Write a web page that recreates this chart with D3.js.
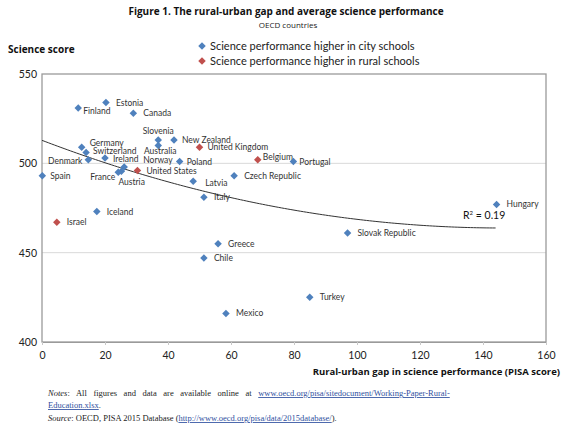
<!DOCTYPE html>
<html>
<head>
<meta charset="utf-8">
<script src="https://cdn.jsdelivr.net/npm/d3@7"></script>
<style>
  body { margin: 0; background: #fff; }
  svg { display: block; }
</style>
</head>
<body>
<div id="chart"></div>
<script>
// Data
const countries = ["Spain", "Israel", "Finland", "Germany", "Switzerland", "Denmark", "Iceland", "Ireland",
  "Estonia", "France", "Austria", "Norway", "Canada", "United States", "Slovenia", "Australia",
  "New Zealand", "Poland", "Latvia", "United Kingdom", "Italy", "Chile", "Greece", "Mexico",
  "Czech Republic", "Belgium", "Portugal", "Turkey", "Slovak Republic", "Hungary"];
const gap = [0.1, 4.7, 11.5, 12.6, 14, 14.7, 17.4, 20, 20.3, 24.2, 25.2, 26.1, 29, 30.3, 36.9, 36.9,
  41.9, 43.7, 48, 50, 51.4, 51.4, 55.9, 58.4, 61, 68.5, 79.8, 85, 97, 144.3];
const science = [493, 467, 531, 509, 506, 502, 473, 503, 534, 495, 495.5, 498, 528, 496, 513, 510,
  513, 501, 490, 509, 481, 447, 455, 416, 493, 502, 501, 425, 461, 477];
const higherIn = ["city", "rural", "city", "city", "city", "city", "city", "city", "city", "city", "city",
  "city", "city", "rural", "city", "city", "city", "city", "city", "rural", "city", "city", "city", "city",
  "city", "rural", "city", "city", "city", "city"];
const xTicks = [0, 20, 40, 60, 80, 100, 120, 140, 160];
const yTicks = [400, 450, 500, 550];
const legendItems = [
  { key: "city", text: "Science performance higher in city schools" },
  { key: "rural", text: "Science performance higher in rural schools" }
];

const colors = { city: "#4f81bd", rural: "#c0504d" };
const labelFont = "Lato, 'Open Sans', sans-serif";

// label placement tweaks (pixels, relative to the point)
const labelPos = {
  "Slovenia": [0, -6, "middle"],
  "Australia": [2, 9, "middle"],
  "Denmark": [-6, 4, "end"],
  "France": [-3, 8, "end"],
  "Austria": [-3, 14, "start"],
  "Norway": [19, -4, "start"],
  "Germany": [8, -1, "start"],
  "Switzerland": [7, 1, "start"],
  "Ireland": [8, 4, "start"],
  "Belgium": [5, 0, "start"],
  "Finland": [5, 6, "start"],
  "United States": [9, 4, "start"],
  "Latvia": [12, 5, "start"],
  "Spain": [8, 3, "start"],
  "New Zealand": [8, 3, "start"],
  "United Kingdom": [8, 3, "start"],
  "Poland": [7, 3, "start"],
  "Portugal": [6, 3, "start"]
};

const width = 564, height = 428;
const svg = d3.select("#chart").append("svg")
  .attr("width", width).attr("height", height);

const x = d3.scaleLinear().domain([0, 160]).range([42, 546]);
const y = d3.scaleLinear().domain([400, 550]).range([342, 74]);

// titles
svg.append("text").attr("x", 286).attr("y", 15).attr("text-anchor", "middle")
  .style("font", "bold 10px 'Open Sans', sans-serif").style("fill", "#111")
  .text("Figure 1. The rural-urban gap and average science performance");
svg.append("text").attr("x", 288).attr("y", 28).attr("text-anchor", "middle")
  .style("font", "8px 'Open Sans', sans-serif").style("fill", "#222")
  .text("OECD countries");
svg.append("text").attr("x", 8).attr("y", 53)
  .style("font", "bold 10px 'Open Sans', sans-serif").style("fill", "#111")
  .text("Science score");

// diamond marker
const diamond = {
  draw(ctx, size) {
    const r = Math.sqrt(size / 2);
    ctx.moveTo(0, -r); ctx.lineTo(r, 0); ctx.lineTo(0, r); ctx.lineTo(-r, 0); ctx.closePath();
  }
};
const sym = d3.symbol().type(diamond).size(28);

// legend
const leg = svg.append("g").selectAll("g").data(legendItems).join("g")
  .attr("transform", (d, i) => `translate(202,${46 + i * 15})`);
leg.append("path").attr("d", sym).attr("fill", d => colors[d.key]);
leg.append("text").attr("x", 8).attr("y", 4)
  .style("font", "11px " + labelFont).style("fill", "#222")
  .text(d => d.text);

// gridlines
svg.append("g").selectAll("line").data(yTicks.filter(v => v > 400 && v < 550)).join("line")
  .attr("x1", x(0)).attr("x2", x(160))
  .attr("y1", d => y(d)).attr("y2", d => y(d))
  .attr("stroke", "#d9d9d9").attr("stroke-width", 1);

// frame
svg.append("rect").attr("x", x(0)).attr("y", y(550))
  .attr("width", x(160) - x(0)).attr("height", y(400) - y(550))
  .attr("fill", "none").attr("stroke", "#9a9a9a").attr("stroke-width", 1.3);

// axes
const xAxis = svg.append("g").attr("transform", `translate(0,${y(400)})`)
  .call(d3.axisBottom(x).tickValues(xTicks).tickSize(3).tickPadding(7).tickSizeOuter(0));
xAxis.select(".domain").attr("stroke", "#9a9a9a");
xAxis.selectAll(".tick line").attr("stroke", "#c8c8c8");
xAxis.selectAll("text").style("font", "10.5px " + labelFont).style("fill", "#222");

const yAxis = svg.append("g").attr("transform", `translate(${x(0)},0)`)
  .call(d3.axisLeft(y).tickValues(yTicks).tickSize(0).tickPadding(5));
yAxis.select(".domain").remove();
yAxis.selectAll("text").style("font", "10.5px " + labelFont).style("fill", "#222");

svg.append("text").attr("x", 560).attr("y", 375).attr("text-anchor", "end")
  .style("font", "bold 9.5px 'Open Sans', sans-serif").style("fill", "#111")
  .text("Rural-urban gap in science performance (PISA score)");

// polynomial (order 2) trend line, least squares on the points
function quadFit(xs, ys) {
  const S = [0, 0, 0, 0, 0], T = [0, 0, 0];
  xs.forEach((xv, i) => {
    for (let k = 0; k < 5; k++) S[k] += Math.pow(xv, k);
    for (let k = 0; k < 3; k++) T[k] += ys[i] * Math.pow(xv, k);
  });
  const A = [[S[0], S[1], S[2], T[0]], [S[1], S[2], S[3], T[1]], [S[2], S[3], S[4], T[2]]];
  for (let i = 0; i < 3; i++) {
    for (let j = i + 1; j < 3; j++) {
      const f = A[j][i] / A[i][i];
      for (let k = i; k < 4; k++) A[j][k] -= f * A[i][k];
    }
  }
  const c = [0, 0, 0];
  for (let i = 2; i >= 0; i--) {
    let s = A[i][3];
    for (let k = i + 1; k < 3; k++) s -= A[i][k] * c[k];
    c[i] = s / A[i][i];
  }
  return c;
}
const coef = quadFit(gap, science);
const fx = d3.range(0, d3.max(gap) + 0.01, 1);
const trend = d3.line().x(d => x(d)).y(d => y(coef[0] + coef[1] * d + coef[2] * d * d));
svg.append("path").datum(fx).attr("d", trend)
  .attr("fill", "none").attr("stroke", "#333").attr("stroke-width", 1);

svg.append("text").attr("x", 463).attr("y", 219)
  .style("font", "10.5px " + labelFont).style("fill", "#111")
  .html("R<tspan dy='-4' font-size='6'>2</tspan><tspan dy='4'> = 0.19</tspan>");

// points and labels
const pts = svg.append("g").selectAll("g").data(countries).join("g")
  .attr("transform", (d, i) => `translate(${x(gap[i])},${y(science[i])})`);
pts.append("path").attr("d", sym).attr("fill", (d, i) => colors[higherIn[i]]);
pts.append("text")
  .attr("x", d => (labelPos[d] || [10, 3])[0])
  .attr("y", d => (labelPos[d] || [10, 3])[1])
  .attr("text-anchor", d => (labelPos[d] || [10, 3, "start"])[2])
  .style("font", "8.5px " + labelFont).style("fill", "#333")
  .text(d => d);

// notes
const notes = svg.append("g").style("font", "8.5px 'Liberation Serif', 'Times New Roman', serif").style("fill", "#222");
const n1 = notes.append("text").attr("x", 48).attr("y", 396).style("word-spacing", "4.5px");
n1.append("tspan").style("font-style", "italic").text("Notes");
n1.append("tspan").text(": All figures and data are available online at ");
n1.append("tspan").style("fill", "#3050a0").style("text-decoration", "underline")
  .text("www.oecd.org/pisa/sitedocument/Working-Paper-Rural-");
const n2 = notes.append("text").attr("x", 48).attr("y", 408);
n2.append("tspan").style("fill", "#3050a0").style("text-decoration", "underline").text("Education.xlsx");
n2.append("tspan").text(".");
const n3 = notes.append("text").attr("x", 48).attr("y", 421);
n3.append("tspan").style("font-style", "italic").text("Source");
n3.append("tspan").text(": OECD, PISA 2015 Database (");
n3.append("tspan").style("fill", "#3050a0").style("text-decoration", "underline")
  .text("http://www.oecd.org/pisa/data/2015database/");
n3.append("tspan").text(").");
</script>
</body>
</html>
